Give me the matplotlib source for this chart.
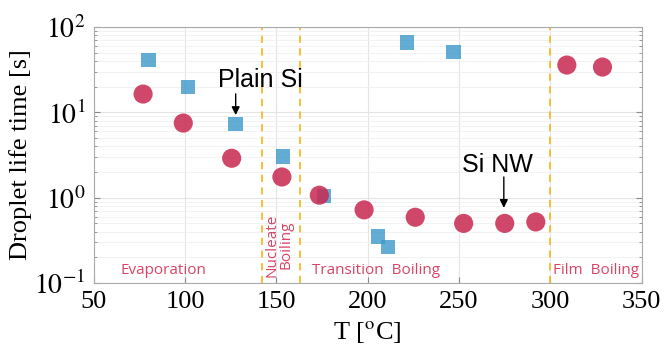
import numpy as np
import matplotlib
matplotlib.use("Agg")
import matplotlib.pyplot as plt

# droplet life time vs surface temperature
T_plain = [80, 101.5, 127.5, 153.5, 176, 205.5, 211, 221.5, 247]
t_plain = [41, 19.8, 7.3, 3.05, 1.05, 0.35, 0.265, 66, 51]

T_nw = [77, 99, 125.5, 153, 173.5, 198, 226, 252.5, 275, 292, 309, 328.5]
t_nw = [16.4, 7.5, 2.9, 1.75, 1.07, 0.72, 0.59, 0.50, 0.50, 0.52, 35.9, 34]

regime_bounds = [142, 163, 300]

plt.rcParams['mathtext.fontset'] = 'stix'
serif = 'Liberation Serif'
red = '#c8284f'
blue = '#3c97c9'
txtred = '#d84466'

fig = plt.figure(figsize=(6.65, 3.61), dpi=100)
ax = fig.add_axes([0.141, 0.216, 0.824, 0.709])

ax.scatter(T_plain, t_plain, s=110, marker='s', color=blue, alpha=0.8,
           edgecolors='none', zorder=3)
ax.scatter(T_nw, t_nw, s=190, marker='o', color=red, alpha=0.85,
           edgecolors='none', zorder=4)

for xb in regime_bounds:
    ax.axvline(xb, color='#fbb829', ls=(0, (4, 3)), lw=1.3, zorder=2)

ax.set_yscale('log')
ax.set_xlim(50, 350)
ax.set_ylim(0.1, 100)
ax.set_xticks([50, 100, 150, 200, 250, 300, 350])
ax.set_xticklabels(['50', '100', '150', '200', '250', '300', '350'],
                   fontfamily=serif, fontsize=19)
ax.set_yticks([0.1, 1, 10, 100])
ax.set_yticklabels([r'$\mathrm{10^{-1}}$', r'$\mathrm{10^{0}}$',
                    r'$\mathrm{10^{1}}$', r'$\mathrm{10^{2}}$'], fontsize=20)
ax.tick_params(which='both', direction='in', colors='#888888',
               labelcolor='black', right=True)
ax.tick_params(which='major', length=4, pad=6)
ax.tick_params(which='minor', length=2.5)
ax.grid(which='major', color='#e4e4e4', lw=0.8)
ax.grid(which='minor', color='#f0f0f0', lw=0.6)
ax.set_axisbelow(True)
for sp in ax.spines.values():
    sp.set_color('#aaaaaa')

ax.set_xlabel(r'T [$^{\mathrm{o}}$C]', fontfamily=serif, fontsize=19, labelpad=4)
ax.set_ylabel('Droplet life time [s]', fontfamily=serif, fontsize=19, labelpad=2)

# annotations
arrow = dict(arrowstyle='-|>', color='black', lw=1, shrinkA=0, shrinkB=0,
             mutation_scale=12)
ax.text(141, 24, 'Plain Si', fontsize=18, fontfamily='Liberation Sans',
        ha='center', va='center')
ax.annotate('', xy=(127.7, 9.3), xytext=(127.7, 16.5), arrowprops=arrow)
ax.text(271, 2.4, 'Si NW', fontsize=18, fontfamily='Liberation Sans',
        ha='center', va='center')
ax.annotate('', xy=(274.5, 0.76), xytext=(274.5, 1.75), arrowprops=arrow)

lab = dict(color=txtred, fontsize=11, fontfamily='Open Sans')
ax.text(88, 0.14, 'Evaporation', ha='center', va='center', **lab)
ax.text(151.5, 0.28, 'Nucleate\nBoiling', ha='center', va='center',
        rotation=90, linespacing=0.9, **lab)
ax.text(204.5, 0.14, 'Transition  Boiling', ha='center', va='center', **lab)
ax.text(325, 0.14, 'Film  Boiling', ha='center', va='center', **lab)

fig.savefig('out.png', dpi=100)
